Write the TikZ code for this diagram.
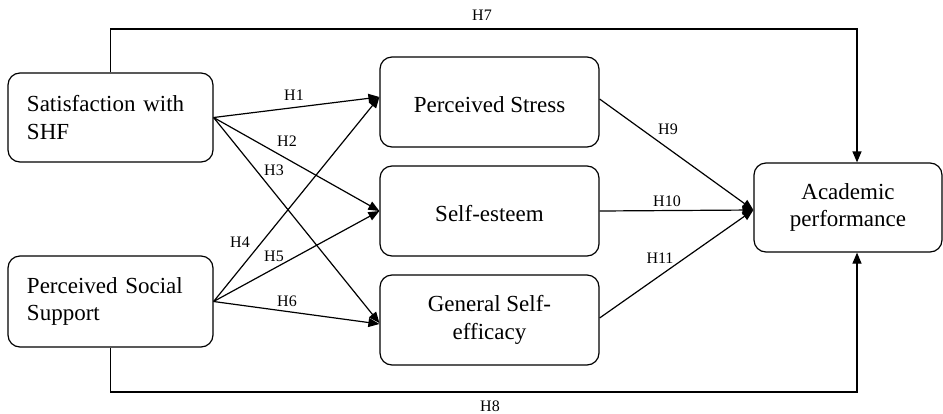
\documentclass[tikz,border=0pt]{standalone}
\usepackage{fontspec}
\setmainfont{Liberation Serif}
\usetikzlibrary{arrows.meta,calc}
\begin{document}
\begin{tikzpicture}[x=1pt,y=-1pt,
  box/.style={draw, line width=1.2pt, rounded corners=12pt, inner sep=0pt, font=\fontsize{23}{27.5}\selectfont},
  lbl/.style={font=\fontsize{16}{18}\selectfont, inner sep=0pt},
  arr/.style={line width=1.2pt, -{Triangle[length=11pt,width=9pt]}}]
\useasboundingbox (0,0) rectangle (943,413);
% boxes
\node[box, minimum width=205pt, minimum height=89pt, text width=167pt, align=left] (sat) at (110.5,117.5) {Satisfaction with\\SHF};
\node[box, minimum width=205pt, minimum height=91pt, text width=167pt, align=left] (pss) at (110.5,301.5) {Perceived Social\\Support};
\node[box, minimum width=219pt, minimum height=90pt, text height=21pt, text depth=0pt] (ps) at (489.5,102) {Perceived Stress};
\node[box, minimum width=219pt, minimum height=90pt, text height=21pt, text depth=0pt] (se) at (489.5,211) {Self-esteem};
\node[box, minimum width=219pt, minimum height=90pt, align=center] (gse) at (489.5,320) {General Self-\\efficacy};
\node[box, minimum width=188pt, minimum height=89pt, align=center] (ac) at (848,207.5) {Academic\\performance};
% coordinates
\coordinate (h7) at (857,29);
\coordinate (h8) at (857,392);
% connectors
\draw[arr] (sat.east) -- ($(ps.west)+(0,-5)$);
\draw[arr] (sat.east) -- (se.west);
\draw[arr] (sat.east) -- ($(gse.west)+(0,3)$);
\draw[arr] (pss.east) -- ($(ps.west)+(0,-5)$);
\draw[arr] (pss.east) -- (se.west);
\draw[arr] (pss.east) -- ($(gse.west)+(0,4)$);
\draw[arr] ($(ps.east)+(0,-3)$) -- ($(ac.west)+(0,2.5)$);
\draw[arr] (se.east) -- ($(ac.west)+(0,2.5)$);
\draw[arr] ($(gse.east)+(0,-2)$) -- ($(ac.west)+(0,2.5)$);
\draw[arr] (sat.north) |- (h7) -- (h7 |- ac.north);
\draw[arr] (pss.south) |- (h8) -- (h8 |- ac.south);
% labels
\node[lbl] (l1) at (294,95) {H1};
\node[lbl] (l2) at (287,141) {H2};
\node[lbl] (l3) at (274,170) {H3};
\node[lbl] (l4) at (240,242) {H4};
\node[lbl] (l5) at (274,256) {H5};
\node[lbl] (l6) at (287,301) {H6};
\node[lbl] (l7) at (482,15) {H7};
\node[lbl] (l8) at (490,406) {H8};
\node[lbl] (l9) at (668,129) {H9};
\node[lbl] (l10) at (667,201) {H10};
\node[lbl] (l11) at (660,258) {H11};
\end{tikzpicture}
\end{document}
